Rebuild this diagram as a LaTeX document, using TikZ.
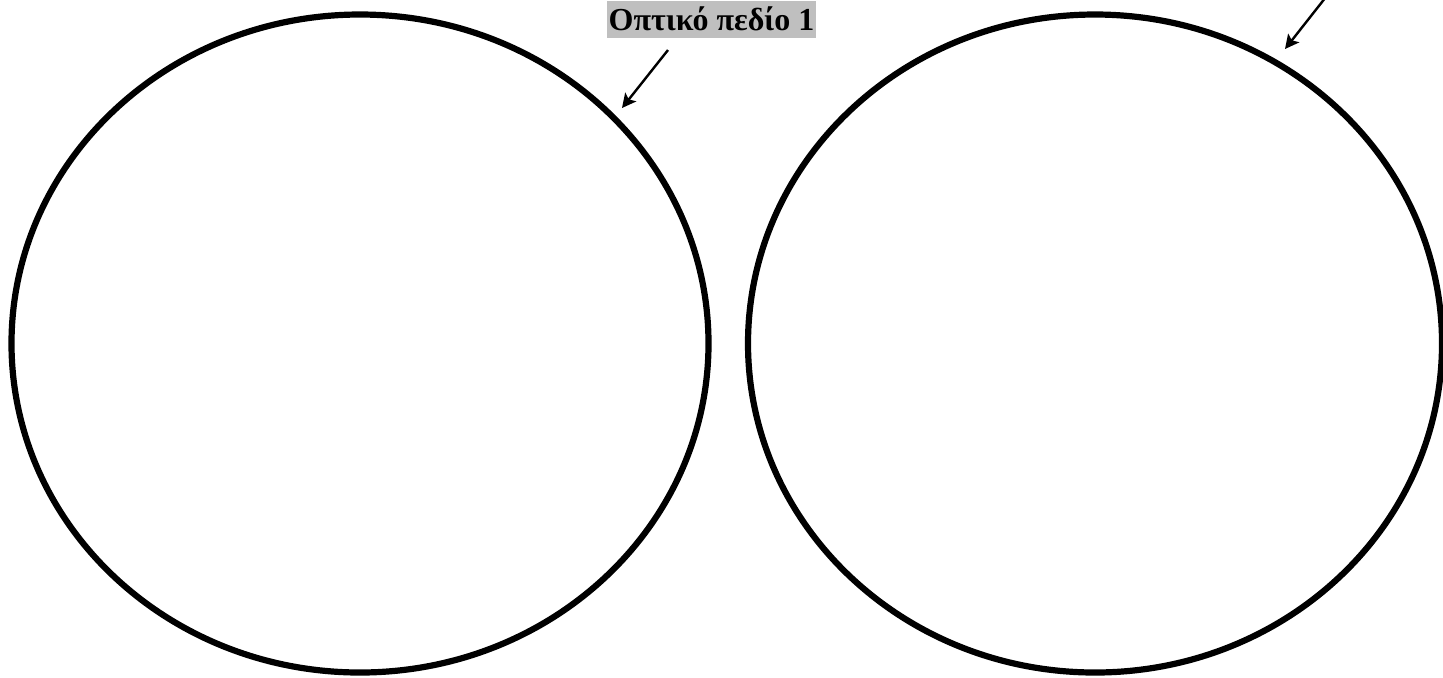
\documentclass[tikz,border=0pt]{standalone}
\usepackage{fontspec}
\setmainfont{Liberation Serif}
\usetikzlibrary{arrows.meta,shapes.geometric}
\begin{document}
\begin{tikzpicture}[x=0.5pt,y=-0.5pt,
  field/.style={draw, ellipse, line width=3.1pt, inner sep=0pt},
  pointer/.style={-{Stealth[length=7pt,width=7pt,inset=1.5pt]}, line width=1.2pt},
  fieldlabel/.style={fill=black!25, inner xsep=1pt, inner ysep=0pt, text height=14.8pt, text depth=3.6pt, font=\fontsize{16}{18}\selectfont\bfseries}]
\useasboundingbox (0,0) rectangle (1443,677);
\clip (0,0) rectangle (1443,677);
% the two fields of view
\node[field, minimum width=348.5pt, minimum height=329pt] (field1) at (360,343.5) {};
\node[field, minimum width=347pt, minimum height=329pt] (field2) at (1095,343.5) {};
% label and pointers
\node[fieldlabel, anchor=base] (label1) at (711.5,30.7) {Οπτικό πεδίο 1};
\coordinate (from1) at (668,50);
\coordinate (to1) at (622,108);
\coordinate (from2) at (1333,-12);
\coordinate (to2) at (1285,49);
\draw[pointer] (from1) -- (to1);
\draw[pointer] (from2) -- (to2);
\end{tikzpicture}
\end{document}
